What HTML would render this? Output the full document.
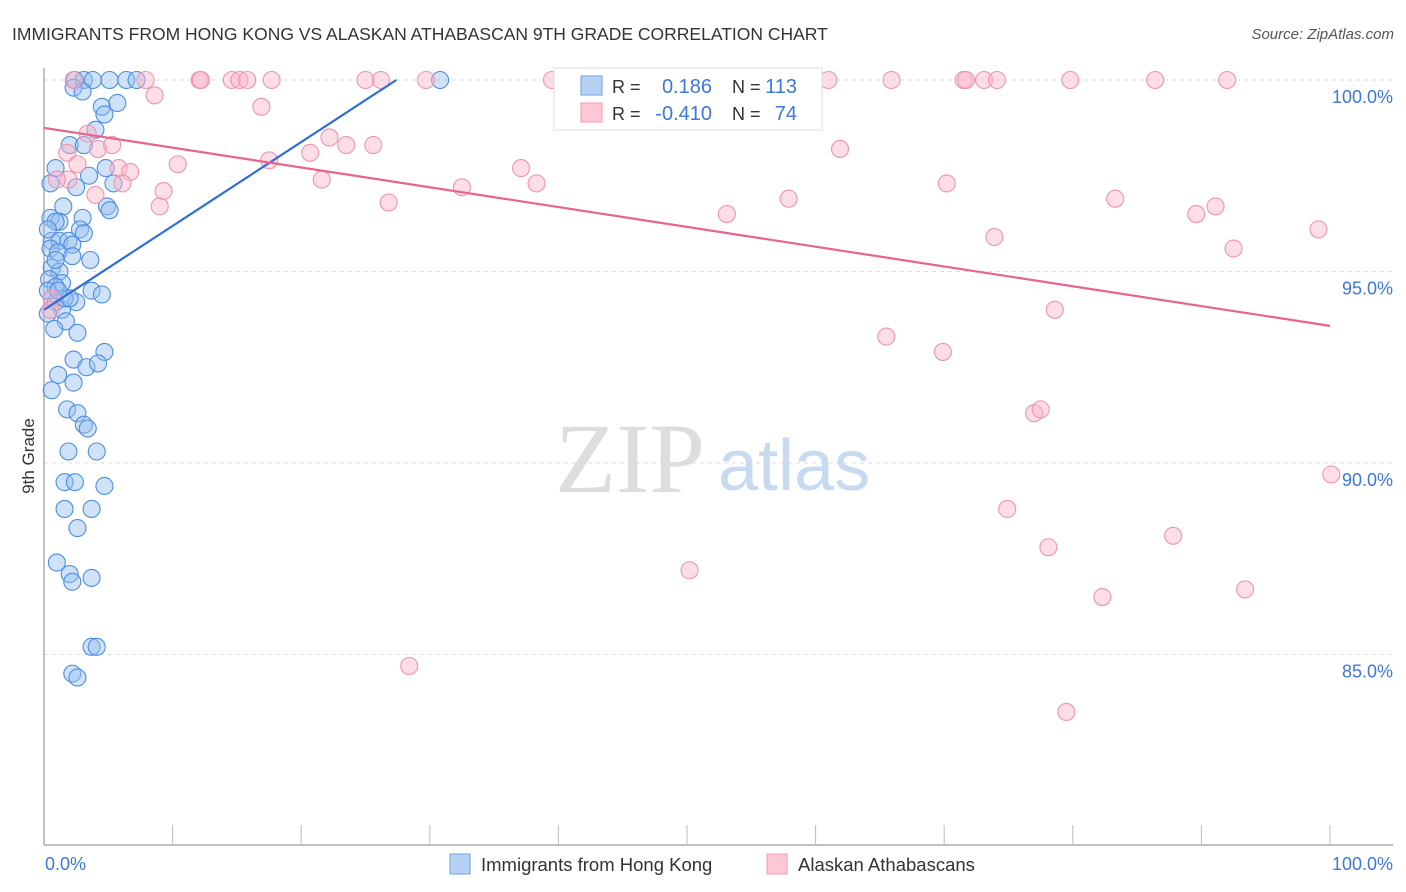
<!DOCTYPE html>
<html><head><meta charset="utf-8"><style>
body{margin:0;background:#fff;font-family:"Liberation Sans",sans-serif}
svg{display:block}
</style></head><body>
<svg width="1406" height="892" xmlns="http://www.w3.org/2000/svg">
<text x="12" y="40" font-size="17.5" fill="#333">IMMIGRANTS FROM HONG KONG VS ALASKAN ATHABASCAN 9TH GRADE CORRELATION CHART</text>
<text x="1394" y="39" font-size="15" fill="#555" text-anchor="end" font-style="italic">Source: ZipAtlas.com</text>
<g id="grid"></g>
<text x="555" y="492" font-size="100" font-family="Liberation Serif,serif" fill="#ddd">ZIP</text>
<text x="718" y="490" font-size="72" fill="#c8daf0">atlas</text>
<line x1="44" y1="68" x2="44" y2="845" stroke="#999" stroke-width="1.2"/>
<line x1="44" y1="845" x2="1393" y2="845" stroke="#999" stroke-width="1.2"/>
<g id="ticks"></g>
<g id="pts"></g>
<g id="lines"></g>
<text x="34" y="456" font-size="17" fill="#333" text-anchor="middle" transform="rotate(-90 34 456)">9th Grade</text>
<text x="45" y="870" font-size="18" fill="#3b78d8">0.0%</text>
<text x="1393" y="870" font-size="18" fill="#3b78d8" text-anchor="end">100.0%</text>
<g>
<rect x="554" y="68" width="268" height="62" fill="#fff" stroke="#ddd"/>
<rect x="581" y="76" width="21" height="19" fill="#b7d1f5" stroke="#6f9fe0"/>
<rect x="581" y="103" width="21" height="19" fill="#fcc8d6" stroke="#f09ab2"/>
<text x="612" y="93" font-size="18" fill="#333">R =</text>
<text x="712" y="93" font-size="20" fill="#3b78d8" text-anchor="end">0.186</text>
<text x="732" y="93" font-size="18" fill="#333">N =</text>
<text x="797" y="93" font-size="20" fill="#3b78d8" text-anchor="end">113</text>
<text x="612" y="120" font-size="18" fill="#333">R =</text>
<text x="712" y="120" font-size="20" fill="#3b78d8" text-anchor="end">-0.410</text>
<text x="732" y="120" font-size="18" fill="#333">N =</text>
<text x="797" y="120" font-size="20" fill="#3b78d8" text-anchor="end">74</text>
</g>
<g>
<rect x="450" y="854" width="20" height="20" fill="#b7d1f5" stroke="#6f9fe0"/>
<text x="481" y="871" font-size="18.5" fill="#333">Immigrants from Hong Kong</text></g>
<g>
<rect x="767" y="854" width="20" height="20" fill="#fcc8d6" stroke="#f09ab2"/>
<text x="798" y="871" font-size="18.5" fill="#333">Alaskan Athabascans</text></g>
</svg>
<script>
const yTicks=[100,95,90,85];
const yTickLabels=["100.0%","95.0%","90.0%","85.0%"];
const xTickVals=[10,20,30,40,50,60,70,80,90,100];
const blueX=[2.4,3.1,3.8,5.1,6.4,7.2,30.8,2.3,3.0,4.5,4.7,5.7,4.0,2.0,3.1,0.9,3.5,4.8,2.5,5.4,0.5,4.9,5.1,1.5,0.5,1.2,3.0,2.8,3.1,0.6,1.2,1.9,2.2,0.5,1.1,2.2,3.6,0.6,1.2,0.4,1.4,0.9,3.7,4.5,0.6,0.9,2.5,1.4,0.3,1.7,0.8,2.6,4.7,2.3,3.3,4.2,1.1,2.3,0.6,1.8,2.6,3.1,3.4,1.9,4.1,1.6,2.4,4.7,1.6,3.7,2.6,1.0,2.0,2.2,3.7,3.7,4.1,2.2,2.6,0.9,0.3,0.9,1.6,0.3,2.0,1.1];
const blueY=[100,100,100,100,100,100,100,99.8,99.7,99.3,99.1,99.4,98.7,98.3,98.3,97.7,97.5,97.7,97.2,97.3,97.3,96.7,96.6,96.7,96.4,96.3,96.4,96.1,96.0,95.8,95.8,95.8,95.7,95.6,95.5,95.4,95.3,95.1,95.0,94.8,94.7,94.6,94.5,94.4,94.3,94.2,94.2,94.0,93.9,93.7,93.5,93.4,92.9,92.7,92.5,92.6,92.3,92.1,91.9,91.4,91.3,91.0,90.9,90.3,90.3,89.5,89.5,89.4,88.8,88.8,88.3,87.4,87.1,86.9,87.0,85.2,85.2,84.5,84.4,96.3,96.1,95.3,94.3,94.5,94.3,94.5];
const pinkX=[2.3,7.9,12.1,12.2,14.6,15.2,15.8,17.7,25.0,26.2,29.7,39.5,41.3,53.4,61.0,65.9,71.5,71.7,73.1,74.1,79.8,86.4,92.0,8.6,16.9,3.4,22.2,4.2,5.3,1.8,23.5,25.6,20.7,61.9,2.6,10.4,17.5,5.8,37.1,1.9,6.7,6.1,1.0,21.6,38.3,32.5,70.2,9.3,4.0,9.0,26.8,57.9,83.3,91.1,53.1,89.6,99.1,73.9,92.5,78.6,65.5,69.9,77.0,77.5,100.1,74.9,78.1,87.8,50.2,82.3,93.4,28.4,79.5,0.6,0.5];
const pinkY=[100,100,100,100,100,100,100,100,100,100,100,100,100,100,100,100,100,100,100,100,100,100,100,99.6,99.3,98.6,98.5,98.2,98.3,98.1,98.3,98.3,98.1,98.2,97.8,97.8,97.9,97.7,97.7,97.4,97.6,97.3,97.4,97.4,97.3,97.2,97.3,97.1,97.0,96.7,96.8,96.9,96.9,96.7,96.5,96.5,96.1,95.9,95.6,94.0,93.3,92.9,91.3,91.4,89.7,88.8,87.8,88.1,87.2,86.5,86.7,84.7,83.5,94.3,94.0];
const blueTrend=[[0,94.0],[27.4,100]];
const pinkTrend=[[0,98.75],[100,93.58]];
const NS="http://www.w3.org/2000/svg";
const sx=p=>44+p*12.86;
const sy=v=>80+(100-v)*38.3;
function mk(tag,attrs,parent){const e=document.createElementNS(NS,tag);for(const k in attrs)e.setAttribute(k,attrs[k]);document.getElementById(parent).appendChild(e);return e;}
yTicks.forEach((t,i)=>{
 const l=mk('line',{x1:44,x2:1393,y1:sy(t),y2:sy(t),stroke:'#ddd','stroke-dasharray':'4,4'},'grid');
 
 
 const tx=mk('text',{x:1393,y:sy(t)+23,'font-size':18,fill:'#3b78d8','text-anchor':'end'},'grid');
 tx.textContent=yTickLabels[i];
 
 
});
xTickVals.forEach(t=>{
 const l=mk('line',{x1:sx(t),x2:sx(t),y1:825,y2:845,stroke:'#bbb'},'ticks');
 
 
});
blueX.forEach((x,i)=>{
 const c=mk('circle',{cx:sx(x),cy:sy(blueY[i]),r:8.5,fill:'rgba(150,190,240,0.45)',stroke:'#4d8ee0','stroke-width':1.1},'pts');
 
 
});
pinkX.forEach((x,i)=>{
 const c=mk('circle',{cx:sx(x),cy:sy(pinkY[i]),r:8.5,fill:'rgba(250,180,200,0.45)',stroke:'#ee94b0','stroke-width':1.1},'pts');
 
 
});
const bl=mk('line',{x1:sx(blueTrend[0][0]),y1:sy(blueTrend[0][1]),x2:sx(blueTrend[1][0]),y2:sy(blueTrend[1][1]),stroke:'#2f6fd6','stroke-width':2.2},'lines');


const pl=mk('line',{x1:sx(pinkTrend[0][0]),y1:sy(pinkTrend[0][1]),x2:sx(pinkTrend[1][0]),y2:sy(pinkTrend[1][1]),stroke:'#e8648e','stroke-width':2.2},'lines');


</script>
</body></html>
